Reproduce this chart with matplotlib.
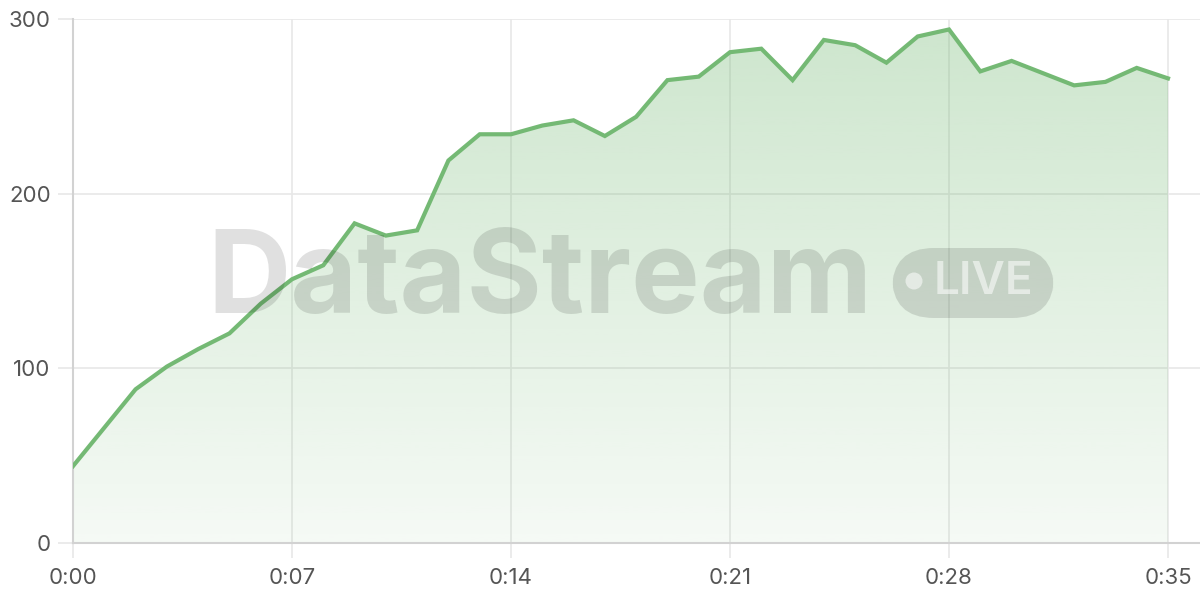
import numpy as np
import matplotlib
matplotlib.use('Agg')
import matplotlib.pyplot as plt
from matplotlib.patches import FancyBboxPatch, Ellipse, Polygon
from matplotlib.ticker import FuncFormatter

plt.rcParams['font.family'] = ['Inter', 'DejaVu Sans']

# data: one value per second
seconds = list(range(36))
values = [44, 66, 88, 101, 111, 120, 137, 151, 159, 183, 176, 179,
          219, 234, 234, 239, 242, 233, 244, 265, 267, 281, 283, 265,
          288, 285, 275, 290, 294, 270, 276, 269, 262, 264, 272, 266]
x_ticks = [0, 7, 14, 21, 28, 35]
y_ticks = [0, 100, 200, 300]

line_color = '#74b974'
grid_color = '#e8e8e8'
spine_color = '#d2d2d2'
label_color = '#555555'

W, H = 1200, 600
fig = plt.figure(figsize=(12, 6), dpi=100)
ax = fig.add_axes([73 / W, (H - 543) / H, (W - 73) / W, 524 / H])

x = np.array(seconds)
y = np.array(values)

# gradient fill under the line
grad = np.linspace(0.07, 0.36, 256).reshape(-1, 1)
rgba = np.zeros((256, 1, 4))
rgba[..., 0] = 0x74 / 255
rgba[..., 1] = 0xb9 / 255
rgba[..., 2] = 0x74 / 255
rgba[..., 3] = grad
im = ax.imshow(rgba, extent=[0, 35, 0, 300], origin='lower', aspect='auto', zorder=1)
poly = Polygon(np.column_stack([np.r_[x, x[-1], x[0]], np.r_[y, 0, 0]]),
               closed=True, transform=ax.transData, facecolor='none', edgecolor='none')
ax.add_patch(poly)
im.set_clip_path(poly)

ax.plot(x, y, color=line_color, linewidth=3, solid_joinstyle='miter', zorder=3)

ax.set_xlim(0, 35 + 32 / 31.286)
ax.set_ylim(0, 300)
ax.set_xticks(x_ticks)
ax.set_yticks(y_ticks)
ax.xaxis.set_major_formatter(FuncFormatter(lambda v, p: f'{int(v) // 60}:{int(v) % 60:02d}'))
ax.grid(True, color=grid_color, linewidth=1.2, zorder=0)
ax.set_axisbelow(True)

for s in ['top', 'right']:
    ax.spines[s].set_visible(False)
for s in ['left', 'bottom']:
    ax.spines[s].set_color(spine_color)
    ax.spines[s].set_linewidth(1.5)
ax.tick_params(axis='both', length=11, width=1.2, color=grid_color,
               labelcolor=label_color, labelsize=16)
ax.tick_params(axis='x', pad=7)
ax.tick_params(axis='y', pad=5)

# watermark
wm = (0, 0, 0, 0.12)
fig.text(207 / W, 1 - 283 / H, 'DataStream', fontsize=83, fontweight='bold',
         color=wm, ha='left', va='center', zorder=10)
badge = FancyBboxPatch((892 / W, 1 - 318 / H), 162 / W, 70 / H,
                       boxstyle='round,pad=0,rounding_size=0.035',
                       transform=fig.transFigure, facecolor=wm, edgecolor='none',
                       mutation_aspect=2, zorder=10)
fig.patches.append(badge)
fig.patches.append(Ellipse((914 / W, 1 - 281 / H), 17 / W, 17 / H, transform=fig.transFigure,
                           facecolor=(1, 1, 1, 0.55), edgecolor='none', zorder=11))
fig.text(934 / W, 1 - 282 / H, 'LIVE', fontsize=33, fontweight='semibold',
         color=(1, 1, 1, 0.55), ha='left', va='center', zorder=11)

fig.savefig('out.png', dpi=100, facecolor='white')
